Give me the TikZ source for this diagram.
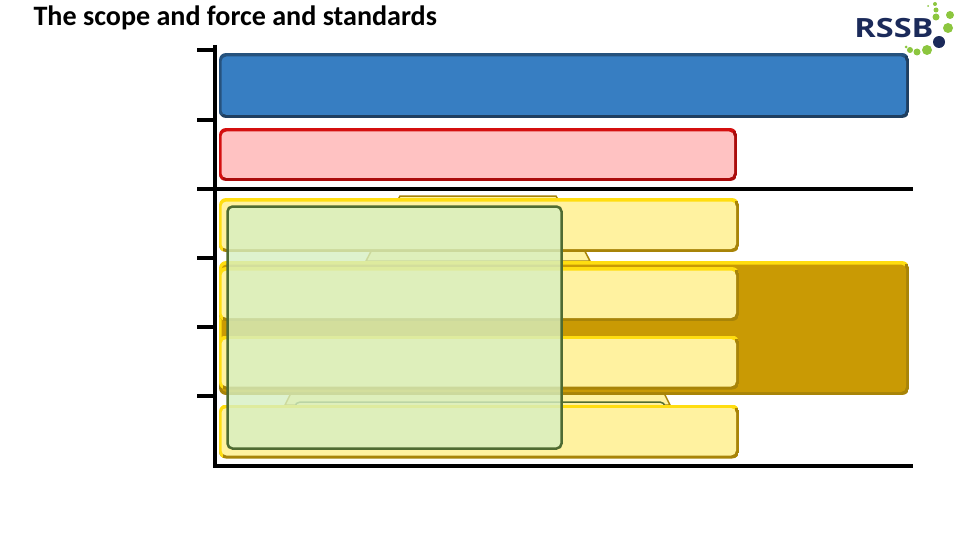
\documentclass[tikz,border=0pt]{standalone}
\usepackage{fontspec}
\setmainfont{Carlito}
\newfontfamily\logofont{Open Sans}
\usepackage{xcolor}
\usetikzlibrary{positioning}

\definecolor{blueedge}{HTML}{1F3F60}
\definecolor{bluefill}{HTML}{377EC2}
\definecolor{redfill}{HTML}{FFC2C2}
\definecolor{rededge}{HTML}{D40F0F}
\definecolor{goldfill}{HTML}{C99A04}
\definecolor{yellowfill}{HTML}{FFF2A0}
\definecolor{yellowtop}{HTML}{FFDD10}
\definecolor{yellowlow}{HTML}{A88408}
\definecolor{greenfill}{HTML}{D6EFC2}
\definecolor{greenedge}{HTML}{4F6B32}
\definecolor{logonavy}{HTML}{1B2A5A}
\definecolor{logogreen}{HTML}{8CC63F}

\begin{document}
\begin{tikzpicture}[
    x=1pt, y=-1pt,
    bar/.style n args={3}{
        rectangle,
        rounded corners=7pt,
        inner sep=0pt,
        outer sep=0pt,
        path picture={
            \fill[#1, sharp corners] (path picture bounding box.north west) rectangle (path picture bounding box.east);
            \fill[#2, sharp corners] (path picture bounding box.west) rectangle (path picture bounding box.south east);
            \fill[#2, sharp corners] ([shift={(-4pt,-3pt)}]path picture bounding box.north east) rectangle (path picture bounding box.south east);
            \fill[#1, sharp corners] ([shift={(0pt,-30pt)}]path picture bounding box.west) rectangle ([shift={(4pt,10pt)}]path picture bounding box.west);
            \fill[#3, rounded corners=5pt] ([shift={(2.5pt,-3.5pt)}]path picture bounding box.north west)
                rectangle ([shift={(-3pt,3pt)}]path picture bounding box.south east);
        }
    },
    yellowbar/.style={
        bar={yellowtop}{yellowlow}{yellowfill},
        minimum width=520pt,
        minimum height=54pt
    },
    backshape/.style={
        fill=yellowfill,
        draw=yellowlow,
        line width=1.5pt
    },
    logodot/.style={fill=logogreen}
]
\useasboundingbox (0,0) rectangle (960,540);

\node[anchor=west, font=\bfseries, scale=2.81, inner sep=0pt] (title) at (33,18) {The scope and force and standards};

% logo
\node[font=\logofont\bfseries, text=logonavy, xscale=3.25, yscale=2.65, inner sep=0pt] (logo) at (894,28.5) {RSSB};
\foreach \dotx/\doty/\dotr in {906/47/1.5, 910/50/3, 917/52/3.5, 927/50/5, 948/28/5, 950/15/4, 936/17/3.5, 936/10/2.5, 935/4/2, 928/6/1}
    \fill[logodot] (\dotx,\doty) circle (\dotr);
\fill[logonavy] (939,42) circle (6);

% shapes behind the bars
\draw[backshape] (366,261) -- (400,196) -- (556,196) -- (590,261) -- cycle;
\draw[backshape] (285,405) -- (317,341) -- (638,341) -- (670,405) -- cycle;
\node[rectangle, rounded corners=5pt, draw=greenedge, line width=1.5pt, fill=yellowfill, minimum width=370pt, minimum height=30pt] (backgreen) at (480,417) {};

\node[bar={blueedge!70!bluefill}{blueedge}{bluefill}, minimum width=690pt, minimum height=65pt] (scope) at (564,85.5) {};
\node[bar={rededge}{rededge!80!black}{redfill}, minimum width=518pt, minimum height=53pt] (force) at (478,154.5) {};
\node[bar={yellowtop}{yellowlow}{goldfill}, minimum width=690pt, minimum height=134pt] (gold) at (564,328) {};

\node[yellowbar] (first) at (479,225) {};
\node[yellowbar] (second) at (479,294) {};
\node[yellowbar] (third) at (479,362.5) {};
\node[yellowbar] (fourth) at (479,431.5) {};

\node[rectangle, rounded corners=5pt, draw=greenedge, line width=2.5pt, fill=greenfill, fill opacity=0.8, draw opacity=1, minimum width=334pt, minimum height=242pt, inner sep=0pt] (standards) at (394.5,327.5) {};

% axis
\draw[line width=4pt] (215,45) -- (215,468);
\draw[line width=4pt] (213,466) -- (913,466);
\draw[line width=4pt] (197,189) -- (913,189);
\foreach \ticky in {50,120,258,327,396}
    \draw[line width=4pt] (197,\ticky) -- (215,\ticky);

\end{tikzpicture}
\end{document}
